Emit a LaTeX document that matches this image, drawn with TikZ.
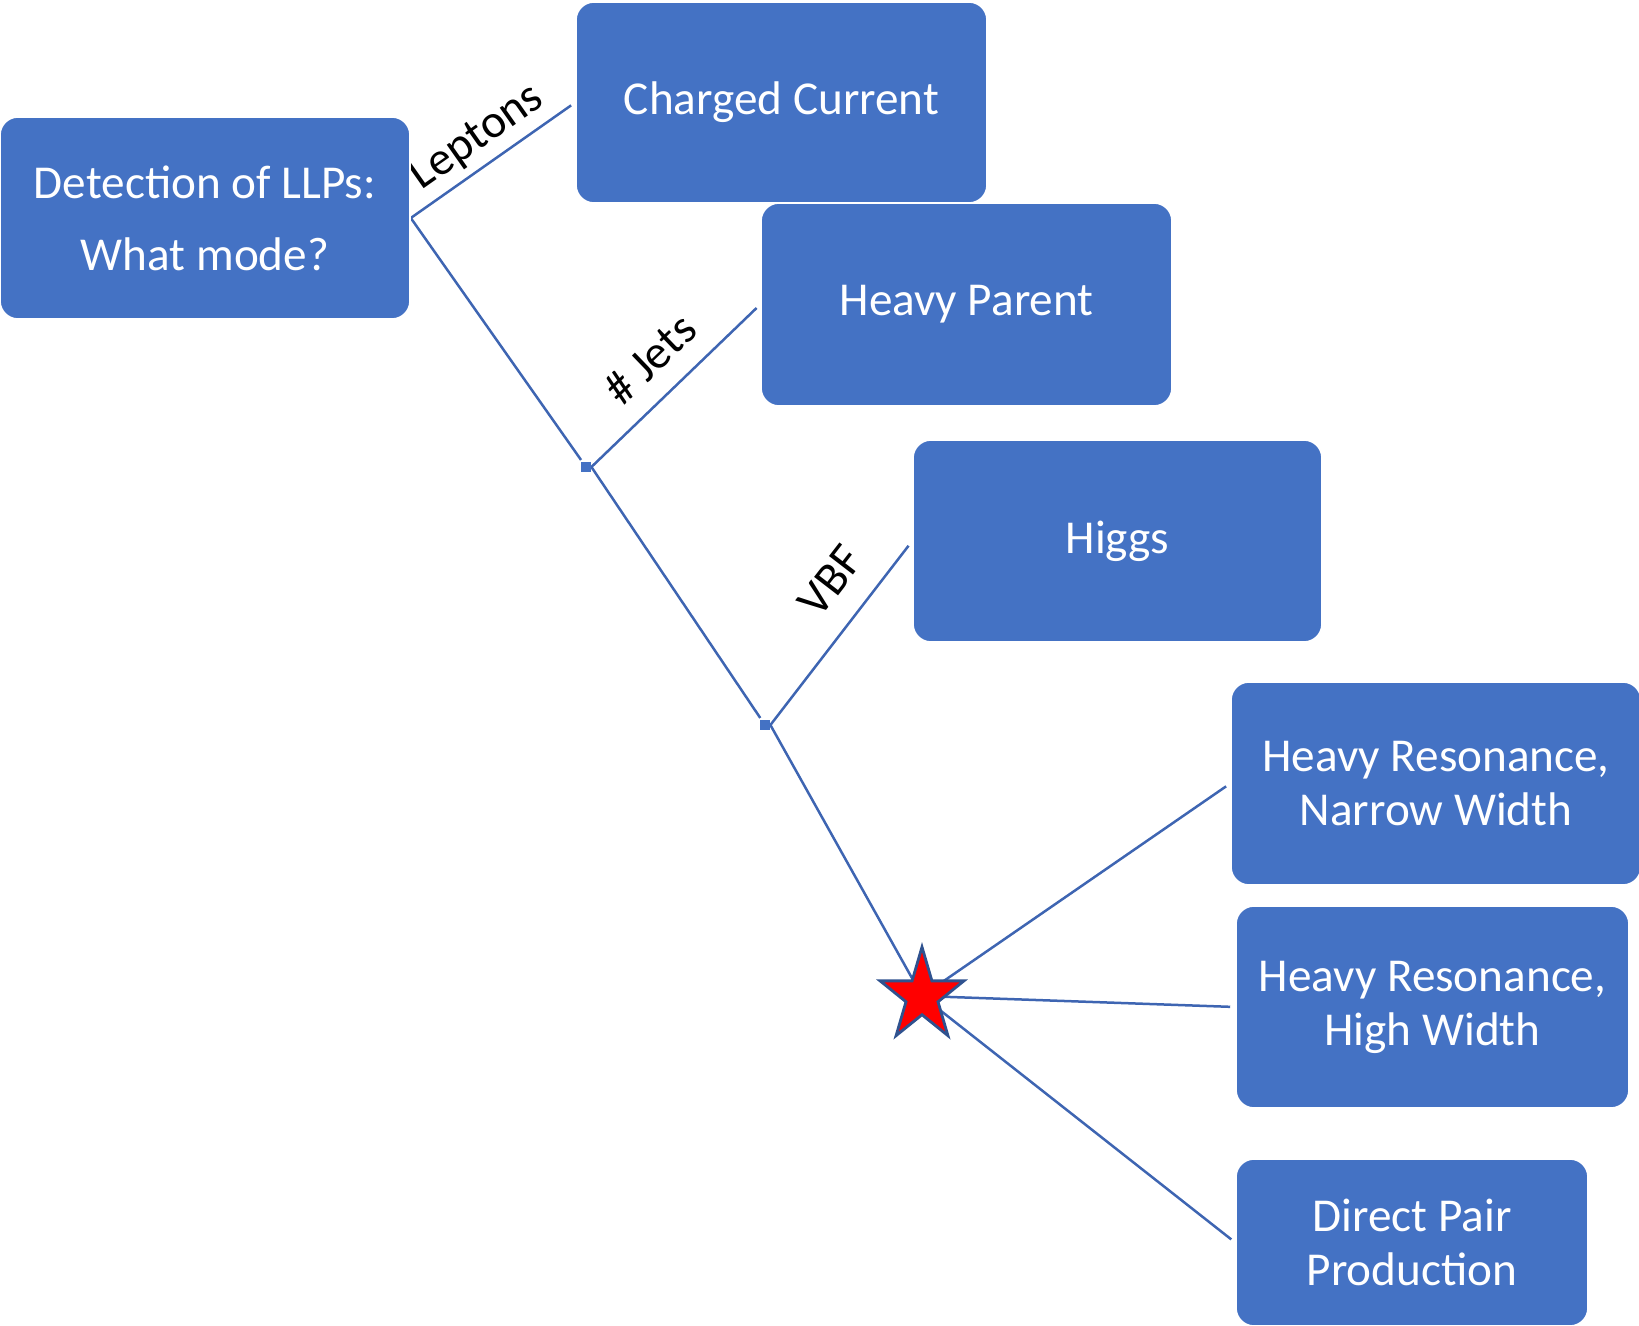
\documentclass[tikz,border=0pt]{standalone}
\usepackage{fontspec}
\setmainfont{Carlito}
\usetikzlibrary{shapes.geometric,backgrounds}
\definecolor{boxblue}{RGB}{68,114,196}
\definecolor{wireblue}{RGB}{62,101,178}
\definecolor{starline}{RGB}{47,82,143}
\begin{document}
\begin{tikzpicture}[x=0.5pt, y=-0.5pt,
    mode/.style={draw=white, line width=0.8pt, fill=boxblue, rounded corners=9pt, text=white, align=center, inner sep=0pt, font=\fontsize{23.6}{27}\selectfont},
    junc/.style={fill=boxblue, minimum size=5pt, inner sep=0pt},
    wire/.style={draw=wireblue, line width=1.25pt},
    cut/.style={font=\fontsize{23.6}{27}\selectfont, sloped, inner sep=0pt}]
  \useasboundingbox (0,0) rectangle (1639,1326);

  % the decision boxes
  \node[mode, minimum width=205pt, minimum height=101pt, font=\fontsize{23.6}{36}\selectfont] (llp) at (205,218) {Detection of LLPs:\\What mode?};
  \node[mode, minimum width=205.5pt, minimum height=100.5pt] (cc) at (781.5,102.5) {Charged Current};
  \node[mode, minimum width=205.5pt, minimum height=101.5pt] (heavy) at (966.5,304.5) {Heavy Parent};
  \node[mode, minimum width=204.5pt, minimum height=101pt] (higgs) at (1117.5,541) {Higgs};
  \node[mode, minimum width=205pt, minimum height=101.5pt] (narrow) at (1436,783.5) {Heavy Resonance,\\Narrow Width};
  \node[mode, minimum width=196.5pt, minimum height=101pt] (wide) at (1432.5,1007) {Heavy Resonance,\\High Width};
  \node[mode, minimum width=176pt, minimum height=83.5pt] (pair) at (1412,1242.5) {Direct Pair\\Production};

  % branch points
  \node[junc] (j1) at (586,467) {};
  \node[junc] (j2) at (765,725) {};
  \node[star, star points=5, star point ratio=2.618, minimum size=49pt, inner sep=0pt, fill=red, draw=starline, line width=1.4pt, xscale=0.9, transform shape] (hub) at (922,996) {};

  \begin{scope}[on background layer]
    \draw[wire, shorten >=2.5pt] (llp.east) -- node[cut, above=3.5pt] {Leptons} (cc.west);
    \draw[wire, shorten >=1pt] (llp.east) -- (j1);
    \draw[wire, shorten >=2.5pt] (j1.east) -- node[cut, above=10pt] {\# Jets} (heavy.west);
    \draw[wire, shorten >=1pt] (j1.east) -- (j2);
    \draw[wire, shorten >=3pt] (j2.east) -- node[cut, pos=0.65, above=12pt] {VBF} (higgs.west);
    \draw[wire] (j2.east) -- (hub.center);
    \draw[wire, shorten >=2.5pt] (hub.center) -- (narrow.west);
    \draw[wire, shorten >=2.5pt] (hub.center) -- (wide.west);
    \draw[wire, shorten >=2.5pt] (hub.center) -- (pair.west);
  \end{scope}
\end{tikzpicture}
\end{document}
